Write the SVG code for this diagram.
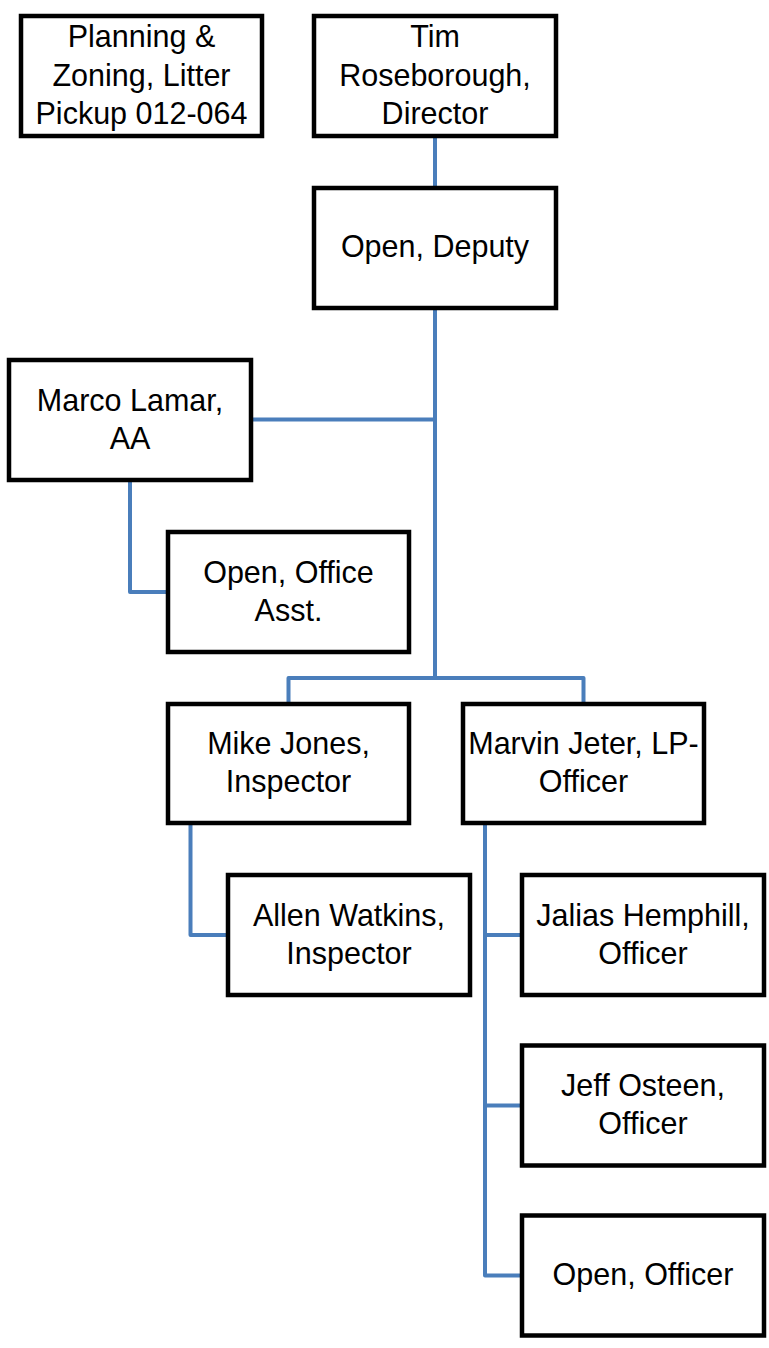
<svg xmlns="http://www.w3.org/2000/svg" width="769" height="1348" viewBox="0 0 769 1348">
<style>
.box{fill:#fff;stroke:#000;stroke-width:4.5}
.lbl{font-family:"Liberation Sans",Arial,sans-serif;font-size:30.5px;fill:#000;text-anchor:middle}
.con{fill:none;stroke:#4A7EBB;stroke-width:4;stroke-linejoin:round}
</style>
<rect width="769" height="1348" fill="#fff"/>
<g id="connectors">
<path class="con" d="M435 136V188"/>
<path class="con" d="M435 308V678"/>
<path class="con" d="M251 419.5H435"/>
<path class="con" d="M130 480V592H168"/>
<path class="con" d="M288.5 704V678H583.5V704"/>
<path class="con" d="M190.5 823V935H228"/>
<path class="con" d="M485 823V1275.5H522"/>
<path class="con" d="M485 935H522"/>
<path class="con" d="M485 1105.5H522"/>
</g>
<g id="planning">
<rect class="box" x="21" y="16" width="241" height="120"/>
<text class="lbl" x="141.5" y="47">Planning &amp;</text>
<text class="lbl" x="141.5" y="85.5">Zoning, Litter</text>
<text class="lbl" x="141.5" y="123.5">Pickup 012-064</text>
</g>
<g id="tim">
<rect class="box" x="314" y="16" width="242" height="120"/>
<text class="lbl" x="435" y="47">Tim</text>
<text class="lbl" x="435" y="85.5">Roseborough,</text>
<text class="lbl" x="435" y="123.5">Director</text>
</g>
<g id="deputy">
<rect class="box" x="314" y="188" width="242" height="120"/>
<text class="lbl" x="435" y="257">Open, Deputy</text>
</g>
<g id="marco">
<rect class="box" x="9" y="360" width="242" height="120"/>
<text class="lbl" x="130" y="410.5">Marco Lamar,</text>
<text class="lbl" x="130" y="448.5">AA</text>
</g>
<g id="office-asst">
<rect class="box" x="168" y="532" width="241" height="120"/>
<text class="lbl" x="288.5" y="582.5">Open, Office</text>
<text class="lbl" x="288.5" y="620.5">Asst.</text>
</g>
<g id="mike">
<rect class="box" x="168" y="704" width="241" height="119"/>
<text class="lbl" x="288.5" y="754">Mike Jones,</text>
<text class="lbl" x="288.5" y="792">Inspector</text>
</g>
<g id="marvin">
<rect class="box" x="463" y="704" width="241" height="119"/>
<text class="lbl" x="583.5" y="754">Marvin Jeter, LP-</text>
<text class="lbl" x="583.5" y="792">Officer</text>
</g>
<g id="allen">
<rect class="box" x="228" y="875" width="242" height="120"/>
<text class="lbl" x="349" y="925.5">Allen Watkins,</text>
<text class="lbl" x="349" y="963.5">Inspector</text>
</g>
<g id="jalias">
<rect class="box" x="522" y="875" width="242" height="120"/>
<text class="lbl" x="643" y="925.5">Jalias Hemphill,</text>
<text class="lbl" x="643" y="963.5">Officer</text>
</g>
<g id="jeff">
<rect class="box" x="522" y="1045.5" width="242" height="120"/>
<text class="lbl" x="643" y="1096">Jeff Osteen,</text>
<text class="lbl" x="643" y="1134">Officer</text>
</g>
<g id="open-officer">
<rect class="box" x="522" y="1215.5" width="242" height="120"/>
<text class="lbl" x="643" y="1285">Open, Officer</text>
</g>
</svg>
